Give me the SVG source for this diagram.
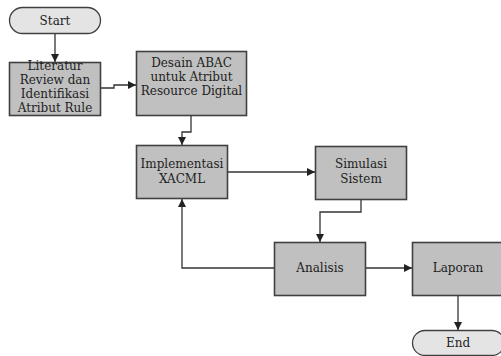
<svg xmlns="http://www.w3.org/2000/svg" width="501" height="356" viewBox="0 0 501 356">
<style>
.box{fill:#c0c0c0;stroke:#404040;stroke-width:1.6}
.term{fill:#e4e4e4;stroke:#404040;stroke-width:1.3}
.t{font-family:"DejaVu Serif","Liberation Serif",serif;font-size:12px;fill:#222;text-anchor:middle}
.c{fill:none;stroke:#333;stroke-width:1.3;marker-end:url(#ah)}
</style>
<defs>
<marker id="ah" viewBox="0 0 10 10" refX="10" refY="5" markerWidth="8" markerHeight="8" markerUnits="userSpaceOnUse" orient="auto">
<path d="M0,0 L10,5 L0,10 z" fill="#222"/>
</marker>
</defs>
<rect width="501" height="356" fill="#fff"/>
<g id="connectors">
<path class="c" d="M55,34 V62"/>
<path class="c" d="M101,88 H114 V85 H136"/>
<path class="c" d="M191,116 V132 H182 V145"/>
<path class="c" d="M228,172 H315"/>
<path class="c" d="M361,200 V212 H320 V242"/>
<path class="c" d="M274,268 H182 V199"/>
<path class="c" d="M366,268 H412"/>
<path class="c" d="M458,295 V330"/>
</g>
<g id="start">
<rect class="term" x="9.5" y="7.5" width="91" height="26" rx="13" ry="13"/>
<text class="t" x="55" y="25">Start</text>
</g>
<g id="literatur">
<rect class="box" x="9.5" y="62.5" width="91" height="53"/>
<text class="t" x="55" y="70">Literatur</text>
<text class="t" x="55" y="84">Review dan</text>
<text class="t" x="55" y="98">Identifikasi</text>
<text class="t" x="55" y="112">Atribut Rule</text>
</g>
<g id="desain">
<rect class="box" x="136.5" y="51.5" width="110" height="64"/>
<text class="t" x="191.5" y="67">Desain ABAC</text>
<text class="t" x="191.5" y="81">untuk Atribut</text>
<text class="t" x="191.5" y="95">Resource Digital</text>
</g>
<g id="implementasi">
<rect class="box" x="136.5" y="145.5" width="91" height="53"/>
<text class="t" x="182" y="168">Implementasi</text>
<text class="t" x="182" y="183">XACML</text>
</g>
<g id="simulasi">
<rect class="box" x="315.5" y="146.5" width="91" height="53"/>
<text class="t" x="361" y="168">Simulasi</text>
<text class="t" x="361" y="183">Sistem</text>
</g>
<g id="analisis">
<rect class="box" x="274.5" y="242.5" width="91" height="53"/>
<text class="t" x="320" y="272">Analisis</text>
</g>
<g id="laporan">
<rect class="box" x="412.5" y="242.5" width="91" height="53"/>
<text class="t" x="458" y="272">Laporan</text>
</g>
<g id="end">
<rect class="term" x="412.5" y="330.5" width="92" height="25" rx="12.5" ry="12.5"/>
<text class="t" x="458" y="347">End</text>
</g>
</svg>
